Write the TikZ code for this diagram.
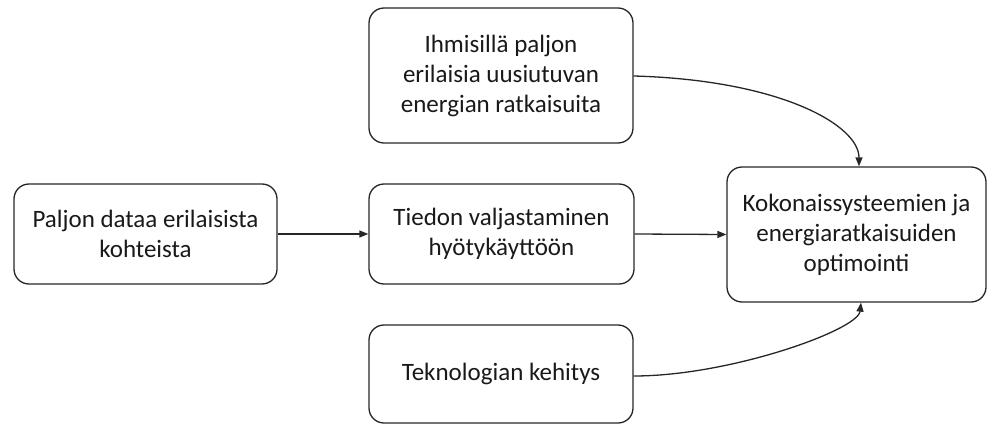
\documentclass[tikz,border=0pt]{standalone}
\usepackage{fontspec}
\setmainfont{Carlito}
\usetikzlibrary{arrows.meta}
\begin{document}
\begin{tikzpicture}[x=1pt,y=-1pt,
  stagebox/.style={draw=black!85, line width=1.3pt, rounded corners=15pt,
    align=center, inner sep=0pt, font=\fontsize{25}{30}\selectfont, text=black!90},
  link/.style={draw=black!85, line width=1.3pt,
    -{Triangle[length=9pt,width=7pt]}}]
  \useasboundingbox (0,0) rectangle (987,425);
  % boxes (centre, size)
  \node[stagebox, minimum width=263pt, minimum height=100pt] (data) at (145.5,234)
    {Paljon dataa erilaisista\\kohteista};
  \node[stagebox, minimum width=265pt, minimum height=100pt] (tieto) at (501.5,234)
    {Tiedon valjastaminen\\hyötykäyttöön};
  \node[stagebox, minimum width=264pt, minimum height=135pt] (ihm) at (501,75.5)
    {Ihmisillä paljon\\erilaisia uusiutuvan\\energian ratkaisuita};
  \node[stagebox, minimum width=264pt, minimum height=98pt] (tek) at (501,374)
    {Teknologian kehitys};
  \node[stagebox, minimum width=259pt, minimum height=135pt] (opt) at (856.5,234.5)
    {Kokonaissysteemien ja\\energiaratkaisuiden\\optimointi};
  % connectors
  \draw[link] (data.east) -- (tieto.west);
  \draw[link] (tieto.east) -- (opt.west);
  \coordinate (ihmout) at (ihm.east |- 0,76);
  \coordinate (optin) at (859,0 |- opt.north);
  \draw[link] (ihmout) .. controls (780,80) and (859,125) .. (optin);
  \coordinate (tekout) at (tek.east |- 0,376);
  \coordinate (optbot) at (861,0 |- opt.south);
  \draw[link] (tekout) .. controls (730,376) and (858,330) .. (optbot);
\end{tikzpicture}
\end{document}
